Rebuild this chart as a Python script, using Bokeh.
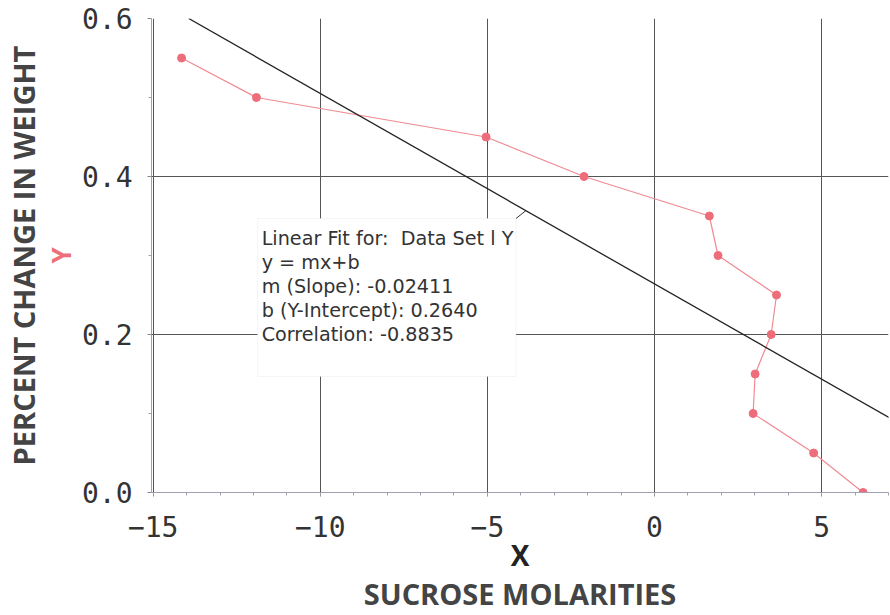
from bokeh.plotting import figure
from bokeh.models import (Range1d, LinearAxis, FixedTicker, Slope, BoxAnnotation,
                          Label, ColumnDataSource)
from bokeh.embed import file_html
from bokeh.resources import INLINE

# ---- data ----
molarity = [-14.15, -11.91, -5.04, -2.11, 1.64, 1.90, 3.65, 3.49, 3.01, 2.95, 4.76, 6.24]
pct_change = [0.55, 0.50, 0.45, 0.40, 0.35, 0.30, 0.25, 0.20, 0.15, 0.10, 0.05, 0.00]
x_ticks = [-15, -10, -5, 0, 5]
x_tick_labels = ["\u221215", "\u221210", "\u22125", "0", "5"]
y_ticks = [0.0, 0.2, 0.4, 0.6]
y_tick_labels = ["0.0", "0.2", "0.4", "0.6"]
fit_slope = -0.02411
fit_intercept = 0.2640
fit_lines = ["Linear Fit for:\u00a0 Data Set l Y",
             "y = mx+b",
             "m (Slope): -0.02411",
             "b (Y-Intercept): 0.2640",
             "Correlation: -0.8835"]
x_title = "SUCROSE MOLARITIES"
y_title = "PERCENT CHANGE IN WEIGHT"

MONO = "DejaVu Sans Mono"
SANS = "Open Sans"

X0, X1 = -15.05, 7.0
Y0, Y1 = 0.0, 0.6
p = figure(width=890, height=615, output_backend="svg", toolbar_location=None,
           x_range=Range1d(X0, X1), y_range=Range1d(Y0, Y1),
           min_border_left=148, min_border_right=2, min_border_top=18,
           min_border_bottom=123, x_axis_location=None, y_axis_location=None)
p.outline_line_color = None
p.background_fill_color = "white"
p.border_fill_color = "white"


def title_axis(text, size, color, standoff):
    a = LinearAxis(ticker=FixedTicker(ticks=[]))
    a.axis_line_color = None
    a.major_tick_out = 0
    a.major_tick_in = 0
    a.minor_tick_out = 0
    a.minor_tick_in = 0
    a.axis_label = text
    a.axis_label_text_font = SANS
    a.axis_label_text_font_style = "bold"
    a.axis_label_text_font_size = size
    a.axis_label_text_color = color
    a.axis_label_standoff = standoff
    return a


# primary axes
xax = LinearAxis(ticker=FixedTicker(ticks=x_ticks,
                                    minor_ticks=list(range(-15, 8))))
xax.major_label_overrides = {t: l for t, l in zip(x_ticks, x_tick_labels)}
yax = LinearAxis(ticker=FixedTicker(ticks=y_ticks,
                                    minor_ticks=[0.1, 0.3, 0.5]))
yax.major_label_overrides = {t: l for t, l in zip(y_ticks, y_tick_labels)}
for ax in (xax, yax):
    ax.axis_line_color = "#a0a0b0"
    ax.major_tick_line_color = "#888888"
    ax.minor_tick_line_color = "#a0a0b0"
    ax.major_tick_out = 4
    ax.major_tick_in = 0
    ax.minor_tick_out = 3
    ax.minor_tick_in = 0
    ax.major_label_text_font = MONO
    ax.major_label_text_font_size = "28px"
    ax.major_label_text_color = "#333333"
    ax.axis_label_text_font = SANS
    ax.axis_label_text_font_style = "bold"
xax.major_label_standoff = 19
xax.axis_label = "X"
xax.axis_label_text_font_size = "28px"
xax.axis_label_text_color = "#222222"
xax.axis_label_standoff = -4
yax.major_label_standoff = 15
yax.axis_label = "Y"
yax.axis_label_text_font_size = "26px"
yax.axis_label_text_color = "#ec6f7a"
yax.axis_label_standoff = 0
p.add_layout(xax, "below")
p.add_layout(yax, "left")
p.add_layout(title_axis(x_title, "29px", "#444444", -3), "below")
p.add_layout(title_axis(y_title, "29px", "#444444", -3), "left")

# grid
p.xgrid.ticker = FixedTicker(ticks=x_ticks)
p.ygrid.ticker = FixedTicker(ticks=y_ticks)
p.xgrid.grid_line_color = "#555555"
p.ygrid.grid_line_color = "#555555"

# data
src = ColumnDataSource(dict(x=molarity, y=pct_change))
p.line("x", "y", source=src, line_color="#f08a92", line_width=1.2)
p.scatter("x", "y", source=src, size=8, fill_color="#ee6d7a",
          line_color="#ee6d7a")

# linear fit
p.add_layout(Slope(gradient=fit_slope, y_intercept=fit_intercept,
                   line_color="#222222", line_width=1.3))

# fit info box
box_l, box_r, box_b, box_t = -11.874, -4.145, 0.1468, 0.3468
p.add_layout(BoxAnnotation(left=box_l, right=box_r, bottom=box_b, top=box_t,
                           fill_color="white", fill_alpha=1.0,
                           line_color="#dddddd", line_width=1))
p.segment(x0=[box_r], y0=[box_t], x1=[-3.85],
          y1=[fit_slope * -3.85 + fit_intercept],
          line_color="#333333", line_width=1)
for i, t in enumerate(fit_lines):
    p.add_layout(Label(x=box_l, y=box_t, x_offset=4, y_offset=-(20 + 24 * i),
                       text=t, text_font="DejaVu Sans", text_font_size="19.2px",
                       text_color="#333333", text_baseline="alphabetic"))

open("out.html", "w").write(file_html(p, INLINE))
